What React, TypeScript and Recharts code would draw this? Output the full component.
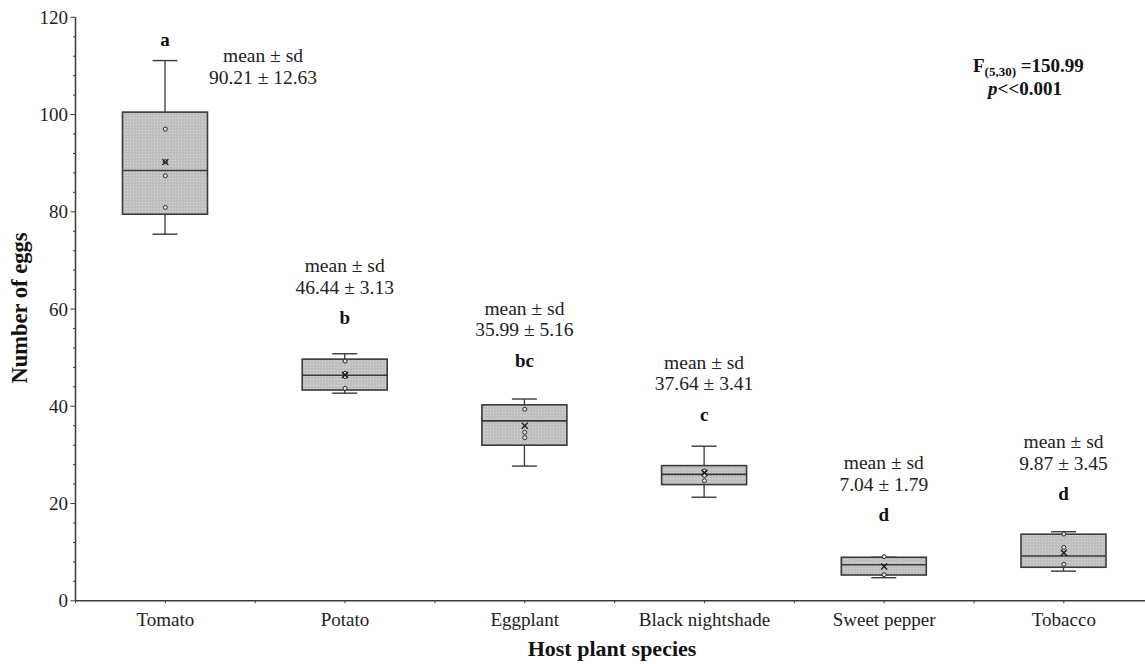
import React from 'react';
import { ComposedChart, Bar, Scatter, XAxis, YAxis } from 'recharts';

// Host plants and the group letters from the post-hoc comparison
const categories = ['Tomato', 'Potato', 'Eggplant', 'Black nightshade', 'Sweet pepper', 'Tobacco'];
const groupLetters = ['a', 'b', 'bc', 'c', 'd', 'd'];

// Box-plot summaries (number of eggs)
const whiskerLow = [75.4, 42.7, 27.7, 21.3, 4.75, 6.1];
const quartile1 = [79.5, 43.35, 32.0, 23.9, 5.3, 6.9];
const medians = [88.5, 46.4, 37.0, 26.0, 7.4, 9.2];
const quartile3 = [100.5, 49.7, 40.3, 27.8, 8.95, 13.7];
const whiskerHigh = [111.1, 50.8, 41.5, 31.8, 8.95, 14.2];

// Mean marker (x) and the individual observations inside each box
const meanMarks = [90.21, 46.44, 35.99, 26.35, 7.04, 9.87];
const obsA = [97.0, 49.3, 39.4, 26.7, 9.07, 13.74];
const obsB = [90.3, 46.8, 34.65, 25.8, 5.37, 11.0];
const obsC = [87.4, 46.1, 33.55, 24.7, null, 7.5];
const obsD = [80.9, 43.7, null, null, null, null];

// Reported statistics printed above each box
const reportedMean = ['90.21', '46.44', '35.99', '37.64', '7.04', '9.87'];
const reportedSd = ['12.63', '3.13', '5.16', '3.41', '1.79', '3.45'];

// Axis ticks
const majorTicks = [0, 20, 40, 60, 80, 100, 120];
const minorStep = 4;

const data = categories.map((name, i) => ({
  name,
  low: whiskerLow[i],
  q1: quartile1[i],
  median: medians[i],
  q3: quartile3[i],
  high: whiskerHigh[i],
  mean: meanMarks[i],
  a: obsA[i],
  b: obsB[i],
  c: obsC[i],
  d: obsD[i],
  letter: groupLetters[i],
  statMean: reportedMean[i],
  statSd: reportedSd[i],
}));

const yTickValues: number[] = [];
for (let v = 0; v <= 120; v += minorStep) yTickValues.push(v);

// Layout
const CHART_W = 1160;
const CHART_H = 664;
const MARGIN = { top: 17.3, right: 6.3, left: 0, bottom: 23.2 };
const Y_AXIS_W = 75.5;
const X_AXIS_H = 40;
const PLOT_LEFT = MARGIN.left + Y_AXIS_W;
const AXIS_Y = CHART_H - MARGIN.bottom - X_AXIS_H;
const BAND = (CHART_W - PLOT_LEFT - MARGIN.right) / categories.length;

// Letter lift above whisker top, and position of the "mean ± sd" block relative to the letter
const letterLift = [20.6, 36, 39, 32, 43, 38.5];
const statPlacement = [
  { dx: 98, dy: 16 },
  { dx: 0, dy: -52 },
  { dx: 0, dy: -52 },
  { dx: 0, dy: -52 },
  { dx: 0, dy: -52 },
  { dx: 0, dy: -52 },
];

const SERIF = '"Liberation Serif", "Times New Roman", Times, serif';
const INK = '#222';
const LINE = '#3a3a3a';

const BoxShape = (props: any) => {
  const { x, y, width, height, index, payload } = props;
  if (payload == null) return <g />;
  const { low, q1, median, q3, high } = payload;
  const top = Math.min(y, y + height);
  const bottom = Math.max(y, y + height);
  const ppu = (bottom - top) / (high - low);
  const py = (v: number) => top + (high - v) * ppu;
  const cx = x + width / 2;
  const cap = 12.5;
  const patId = `box-dots-${index}`;

  const letterY = py(high) - letterLift[index];
  const place = statPlacement[index];
  const statX = cx + place.dx;
  const statY1 = letterY + place.dy;
  const statY2 = statY1 + 21.8;

  return (
    <g>
      <defs>
        <pattern id={patId} width={3} height={3} patternUnits="userSpaceOnUse">
          <rect width={3} height={3} fill="#bfbfbf" />
          <rect x={1} y={1} width={1} height={1} fill="#dadada" />
        </pattern>
      </defs>
      {/* whiskers */}
      <line x1={cx} x2={cx} y1={py(high)} y2={py(q3)} stroke={LINE} strokeWidth={1.3} />
      <line x1={cx} x2={cx} y1={py(q1)} y2={py(low)} stroke={LINE} strokeWidth={1.3} />
      <line x1={cx - cap} x2={cx + cap} y1={py(high)} y2={py(high)} stroke={LINE} strokeWidth={1.4} />
      <line x1={cx - cap} x2={cx + cap} y1={py(low)} y2={py(low)} stroke={LINE} strokeWidth={1.4} />
      {/* box */}
      <rect
        x={x}
        y={py(q3)}
        width={width}
        height={py(q1) - py(q3)}
        fill={`url(#${patId})`}
        stroke={LINE}
        strokeWidth={1.6}
      />
      <line x1={x} x2={x + width} y1={py(median)} y2={py(median)} stroke={LINE} strokeWidth={1.6} />
      {/* annotations */}
      <text
        x={cx}
        y={letterY}
        textAnchor="middle"
        dominantBaseline="central"
        fontFamily={SERIF}
        fontWeight="bold"
        fontSize={19}
        fill="#111"
      >
        {payload.letter}
      </text>
      <text
        x={statX}
        y={statY1}
        textAnchor="middle"
        dominantBaseline="central"
        fontFamily={SERIF}
        fontSize={19.5}
        fill={INK}
      >
        mean ± sd
      </text>
      <text
        x={statX}
        y={statY2}
        textAnchor="middle"
        dominantBaseline="central"
        fontFamily={SERIF}
        fontSize={19.5}
        fill={INK}
      >
        {`${payload.statMean} ± ${payload.statSd}`}
      </text>
    </g>
  );
};

const makeDot = (key: string) => (props: any) => {
  const { cx, cy, payload } = props;
  if (!payload || payload[key] == null || !isFinite(cx) || !isFinite(cy)) return <g />;
  return <circle cx={cx} cy={cy} r={2} fill="#e4e4e4" stroke="#2a2a2a" strokeWidth={1} />;
};

const MeanCross = (props: any) => {
  const { cx, cy } = props;
  if (!isFinite(cx) || !isFinite(cy)) return <g />;
  const s = 3;
  return (
    <g stroke="#1a1a1a" strokeWidth={1.3}>
      <line x1={cx - s} y1={cy - s} x2={cx + s} y2={cy + s} />
      <line x1={cx - s} y1={cy + s} x2={cx + s} y2={cy - s} />
    </g>
  );
};

const renderYTick = (props: any) => {
  const { y, payload } = props;
  const v = payload.value;
  const major = v % 20 === 0;
  return (
    <g>
      <line x1={PLOT_LEFT - (major ? 5 : 2.5)} x2={PLOT_LEFT} y1={y} y2={y} stroke={LINE} strokeWidth={1} />
      {major && (
        <text
          x={PLOT_LEFT - 7.5}
          y={y}
          textAnchor="end"
          dominantBaseline="central"
          fontFamily={SERIF}
          fontSize={19}
          fill={INK}
        >
          {v}
        </text>
      )}
    </g>
  );
};

const renderXTick = (props: any) => {
  const { x, payload, index } = props;
  const last = index === categories.length - 1;
  return (
    <g>
      <line x1={x} x2={x} y1={AXIS_Y} y2={AXIS_Y + 2.5} stroke={LINE} strokeWidth={1} />
      <line x1={x - BAND / 2} x2={x - BAND / 2} y1={AXIS_Y} y2={AXIS_Y + 2.5} stroke={LINE} strokeWidth={1} />
      {last && (
        <line x1={x + BAND / 2} x2={x + BAND / 2} y1={AXIS_Y} y2={AXIS_Y + 2.5} stroke={LINE} strokeWidth={1} />
      )}
      <text
        x={x}
        y={AXIS_Y + 19}
        textAnchor="middle"
        dominantBaseline="central"
        fontFamily={SERIF}
        fontSize={19}
        fill={INK}
      >
        {payload.value}
      </text>
    </g>
  );
};

export default function App() {
  return (
    <div
      style={{
        position: 'absolute',
        left: 0,
        top: 0,
        width: 1145,
        height: 664,
        overflow: 'hidden',
        background: '#ffffff',
      }}
    >
      <ComposedChart width={CHART_W} height={CHART_H} data={data} margin={MARGIN}>
        <XAxis
          dataKey="name"
          type="category"
          height={X_AXIS_H}
          interval={0}
          tickLine={false}
          axisLine={{ stroke: LINE, strokeWidth: 1.5 }}
          tick={renderXTick}
        />
        <YAxis
          type="number"
          domain={[0, 120]}
          ticks={yTickValues}
          interval={0}
          width={Y_AXIS_W}
          tickLine={false}
          axisLine={{ stroke: LINE, strokeWidth: 1.5 }}
          tick={renderYTick}
        />
        <Bar
          dataKey={(d: any) => [d.low, d.high]}
          barSize={85}
          shape={BoxShape}
          isAnimationActive={false}
        />
        <Scatter dataKey="a" shape={makeDot('a')} isAnimationActive={false} />
        <Scatter dataKey="b" shape={makeDot('b')} isAnimationActive={false} />
        <Scatter dataKey="c" shape={makeDot('c')} isAnimationActive={false} />
        <Scatter dataKey="d" shape={makeDot('d')} isAnimationActive={false} />
        <Scatter dataKey="mean" shape={MeanCross} isAnimationActive={false} />
      </ComposedChart>
      <svg
        width={1145}
        height={664}
        style={{ position: 'absolute', left: 0, top: 0, pointerEvents: 'none' }}
      >
        <text
          transform="translate(19.5, 308) rotate(-90)"
          textAnchor="middle"
          dominantBaseline="central"
          fontFamily={SERIF}
          fontWeight="bold"
          fontSize={22.5}
          fill="#111"
        >
          Number of eggs
        </text>
        <text
          x={612}
          y={648}
          textAnchor="middle"
          dominantBaseline="central"
          fontFamily={SERIF}
          fontWeight="bold"
          fontSize={22}
          fill="#111"
        >
          Host plant species
        </text>
        <text x={973} y={71.5} fontFamily={SERIF} fontWeight="bold" fontSize={19} fill="#111">
          F
          <tspan fontSize={13} dy={4}>(5,30)</tspan>
          <tspan dy={-4}> =150.99</tspan>
        </text>
        <text x={988} y={95} fontFamily={SERIF} fontWeight="bold" fontSize={19} fill="#111">
          <tspan fontStyle="italic">p</tspan>
          <tspan>{'<<0.001'}</tspan>
        </text>
      </svg>
    </div>
  );
}
